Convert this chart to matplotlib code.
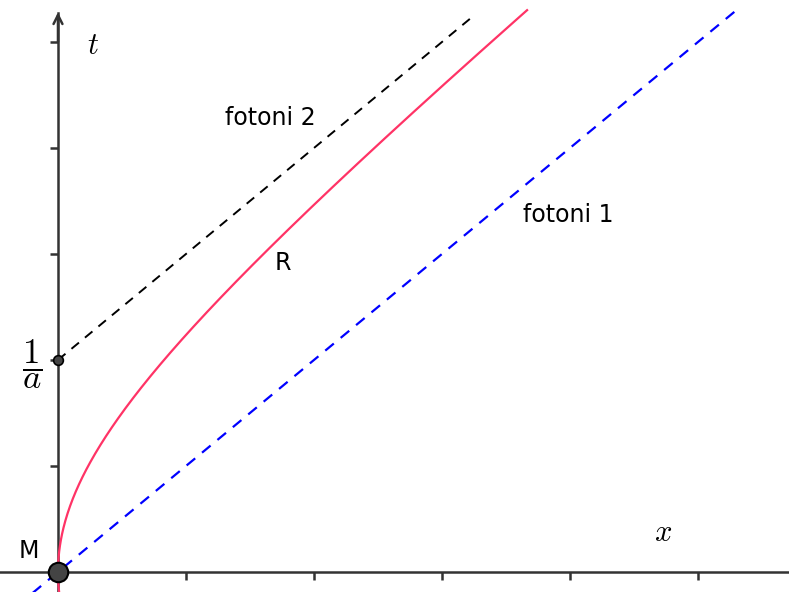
import numpy as np
import matplotlib
matplotlib.use("Agg")
import matplotlib.pyplot as plt

plt.rcParams['mathtext.fontset'] = 'cm'

# data
inv_a = 2.0                      # 1/a
x_ticks = [1, 2, 3, 4, 5]
t_ticks = [1, 2, 3, 4, 5]
xlim = (-0.453, 5.711)
ylim = (-0.189, 5.396)
t_top = 5.30                     # where drawn curves end
t_axis_top = 5.27

fig = plt.figure(figsize=(7.89, 5.92), dpi=100)
ax = fig.add_axes([0, 0, 1, 1])
ax.set_xlim(*xlim)
ax.set_ylim(*ylim)

for s in ['top', 'right']:
    ax.spines[s].set_visible(False)
ax.spines['left'].set_position(('data', 0))
ax.spines['bottom'].set_position(('data', 0))
ax.spines['left'].set_bounds(ylim[0], t_axis_top)
for s in ['left', 'bottom']:
    ax.spines[s].set_color('#333333')
    ax.spines[s].set_linewidth(1.8)
ax.set_xticks(x_ticks)
ax.set_yticks(t_ticks)
ax.set_xticklabels([])
ax.set_yticklabels([])
ax.tick_params(direction='out', length=6, width=1.8, color='#333333')

# arrows at ends of axes
ax.annotate('', xy=(0, t_axis_top + 0.01), xytext=(0, 5.0),
            arrowprops=dict(arrowstyle='->', color='#333333', lw=1.8,
                            mutation_scale=16, shrinkA=0, shrinkB=0))
ax.annotate('', xy=(5.72, 0), xytext=(5.4, 0),
            arrowprops=dict(arrowstyle='->', color='#333333', lw=1.8,
                            mutation_scale=16, shrinkA=0, shrinkB=0))

# photon 1: t = x
xs1 = np.array([xlim[0], t_top])
ax.plot(xs1, xs1, color='#0000ff', lw=1.6, ls=(0, (5, 4)), zorder=3)
# photon 2: t = x + 1/a
xs2 = np.array([0, 5.26 - inv_a])
ax.plot(xs2, xs2 + inv_a, color='black', lw=1.4, ls=(0, (5, 4)), zorder=3)
# R: hyperbola x = sqrt(1/a^2 + t^2) - 1/a
tt = np.linspace(ylim[0], t_top, 400)
ax.plot(np.sqrt(inv_a**2 + tt**2) - inv_a, tt, color='#ff3366', lw=1.6, zorder=4)

# points
ax.plot([0], [0], 'o', ms=14, mfc='#444444', mec='black', mew=1.5, zorder=6, clip_on=False)
ax.plot([0], [inv_a], 'o', ms=7, mfc='#444444', mec='black', mew=1.2, zorder=6)

# labels
ax.text(0.273, 4.97, '$t$', fontsize=22, ha='center', va='center')
ax.text(4.73, 0.377, '$x$', fontsize=22, ha='center', va='center')
ax.text(-0.203, 1.96, r'$\dfrac{1}{a}$', fontsize=25, ha='center', va='center')
ax.text(1.656, 4.283, 'fotoni 2', fontsize=17, family='DejaVu Sans', ha='center', va='center')
ax.text(3.99, 3.368, 'fotoni 1', fontsize=17, family='DejaVu Sans', ha='center', va='center')
ax.text(1.758, 2.915, 'R', fontsize=17, family='DejaVu Sans', ha='center', va='center')
ax.text(-0.227, 0.198, 'M', fontsize=17, family='DejaVu Sans', ha='center', va='center')

fig.savefig('out.png', dpi=100)
